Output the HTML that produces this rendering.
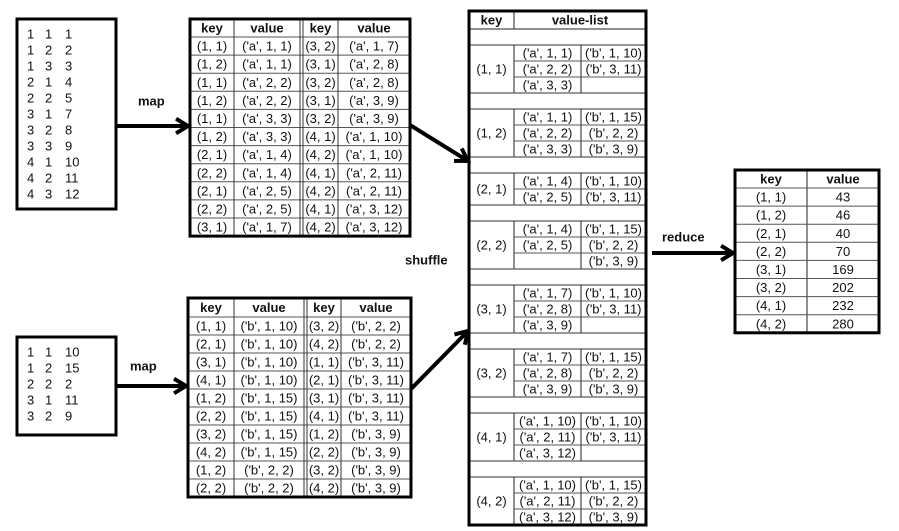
<!DOCTYPE html>
<html><head><meta charset="utf-8"><style>
html,body{margin:0;padding:0;background:#fff}
svg{display:block;font-family:"Liberation Sans",sans-serif}
text{font-size:13px;fill:#111}
.b{font-weight:bold}
</style></head><body>
<svg id="s" width="899" height="531" xmlns="http://www.w3.org/2000/svg"></svg>
<script>
const inputA=[["1","1","1"],["1","2","2"],["1","3","3"],["2","1","4"],["2","2","5"],["3","1","7"],["3","2","8"],["3","3","9"],["4","1","10"],["4","2","11"],["4","3","12"]];
const inputB=[["1","1","10"],["1","2","15"],["2","2","2"],["3","1","11"],["3","2","9"]];
const mapA=[["(1, 1)","('a', 1, 1)","(3, 2)","('a', 1, 7)"],["(1, 2)","('a', 1, 1)","(3, 1)","('a', 2, 8)"],["(1, 1)","('a', 2, 2)","(3, 2)","('a', 2, 8)"],["(1, 2)","('a', 2, 2)","(3, 1)","('a', 3, 9)"],["(1, 1)","('a', 3, 3)","(3, 2)","('a', 3, 9)"],["(1, 2)","('a', 3, 3)","(4, 1)","('a', 1, 10)"],["(2, 1)","('a', 1, 4)","(4, 2)","('a', 1, 10)"],["(2, 2)","('a', 1, 4)","(4, 1)","('a', 2, 11)"],["(2, 1)","('a', 2, 5)","(4, 2)","('a', 2, 11)"],["(2, 2)","('a', 2, 5)","(4, 1)","('a', 3, 12)"],["(3, 1)","('a', 1, 7)","(4, 2)","('a', 3, 12)"]];
const mapB=[["(1, 1)","('b', 1, 10)","(3, 2)","('b', 2, 2)"],["(2, 1)","('b', 1, 10)","(4, 2)","('b', 2, 2)"],["(3, 1)","('b', 1, 10)","(1, 1)","('b', 3, 11)"],["(4, 1)","('b', 1, 10)","(2, 1)","('b', 3, 11)"],["(1, 2)","('b', 1, 15)","(3, 1)","('b', 3, 11)"],["(2, 2)","('b', 1, 15)","(4, 1)","('b', 3, 11)"],["(3, 2)","('b', 1, 15)","(1, 2)","('b', 3, 9)"],["(4, 2)","('b', 1, 15)","(2, 2)","('b', 3, 9)"],["(1, 2)","('b', 2, 2)","(3, 2)","('b', 3, 9)"],["(2, 2)","('b', 2, 2)","(4, 2)","('b', 3, 9)"]];
const groups=[["(1, 1)",["('a', 1, 1)","('a', 2, 2)","('a', 3, 3)"],["('b', 1, 10)","('b', 3, 11)",""]],["(1, 2)",["('a', 1, 1)","('a', 2, 2)","('a', 3, 3)"],["('b', 1, 15)","('b', 2, 2)","('b', 3, 9)"]],["(2, 1)",["('a', 1, 4)","('a', 2, 5)"],["('b', 1, 10)","('b', 3, 11)"]],["(2, 2)",["('a', 1, 4)","('a', 2, 5)",""],["('b', 1, 15)","('b', 2, 2)","('b', 3, 9)"]],["(3, 1)",["('a', 1, 7)","('a', 2, 8)","('a', 3, 9)"],["('b', 1, 10)","('b', 3, 11)",""]],["(3, 2)",["('a', 1, 7)","('a', 2, 8)","('a', 3, 9)"],["('b', 1, 15)","('b', 2, 2)","('b', 3, 9)"]],["(4, 1)",["('a', 1, 10)","('a', 2, 11)","('a', 3, 12)"],["('b', 1, 10)","('b', 3, 11)",""]],["(4, 2)",["('a', 1, 10)","('a', 2, 11)","('a', 3, 12)"],["('b', 1, 15)","('b', 2, 2)","('b', 3, 9)"]]];
const reduceKeys=["(1, 1)","(1, 2)","(2, 1)","(2, 2)","(3, 1)","(3, 2)","(4, 1)","(4, 2)"];
const reduceVals=["43","46","40","70","169","202","232","280"];

const S=document.getElementById('s');const NS='http://www.w3.org/2000/svg';
function mk(tag,at,txt){const e=document.createElementNS(NS,tag);for(const k in at)e.setAttribute(k,at[k]);if(txt!==undefined)e.textContent=txt;S.appendChild(e);return e;}
function line(x1,y1,x2,y2,w,c){const e=mk('line',{x1,y1,x2,y2,stroke:c||'#222','stroke-width':w||1});return e;}
function box(x,y,w,h,name){const e=mk('rect',{x,y,width:w,height:h,fill:'none',stroke:'#000','stroke-width':3});}
function txt(x,y,t,cls,anchor){const e=mk('text',{x,y,'text-anchor':anchor||'middle','dominant-baseline':'central',class:cls||''},t);return e;}
function arrow(x1,y1,x2,y2,name){const g=mk('line',{x1,y1,x2,y2,stroke:'#000','stroke-width':4});
 const a=Math.atan2(y2-y1,x2-x1),L=14,sp=0.55;
 mk('polyline',{points:`${x2-L*Math.cos(a-sp)},${y2-L*Math.sin(a-sp)} ${x2},${y2} ${x2-L*Math.cos(a+sp)},${y2-L*Math.sin(a+sp)}`,fill:'none',stroke:'#000','stroke-width':4,'stroke-linejoin':'miter'});}
function label(x,y,t,name){const e=mk('text',{x,y,'dominant-baseline':'central',class:'b'},t);}

function inputBox(x,y,w,h,data,name){box(x,y,w,h,name);data.forEach((r,i)=>{[27,45,65].forEach((cx,j)=>txt(x+cx-17,y+15+i*16,r[j],'','start'));});}
inputBox(17,19,99,190,inputA,'input-a-box');
inputBox(17,337,99,98,inputB,'input-b-box');

function mapTable(x0,y0,cols,hh,rh,data,name){const n=data.length,y1=y0+hh+rh*n;
 for(let i=0;i<=n;i++){const y=y0+hh+i*rh;if(i<n)line(x0,y,cols[4],y,1,'#555');}
 [cols[1],cols[3]].forEach(c=>line(c,y0,c,y1,1,'#333'));
 line(cols[2],y0,cols[2],y1,1,'#333');line(cols[2]+3,y0,cols[2]+3,y1,1,'#333');
 const cx=[(cols[0]+cols[1])/2,(cols[1]+cols[2])/2,(cols[2]+3+cols[3])/2,(cols[3]+cols[4])/2];
 ['key','value','key','value'].forEach((h,j)=>txt(cx[j],y0+hh/2,h,'b'));
 data.forEach((r,i)=>r.forEach((v,j)=>txt(cx[j],y0+hh+rh*i+rh/2,v)));
 box(x0,y0,cols[4]-x0,y1-y0,name);}
mapTable(190,19,[190,234,300,338,410],18,18.1,mapA,'map-a-table');
mapTable(188,298,[188,234,304,341,411],19,18,mapB,'map-b-table');

// shuffle
(function(){const X0=469,XK=514,XA=581,X1=646,Y0=11,HH=18,SP=16,RH=16;
 txt((X0+XK)/2,Y0+HH/2,'key','b');txt((XK+X1)/2,Y0+HH/2,'value-list','b');
 line(XK,Y0,XK,Y0+HH,1);line(X0,Y0+HH,X1,Y0+HH,1);
 let y=Y0+HH;
 groups.forEach(g=>{y+=SP;line(X0,y,X1,y,1,'#333');const n=g[1].length,gy=y;
  txt((X0+XK)/2,gy+n*RH/2,g[0]);line(XK,gy,XK,gy+n*RH,1);
  for(let i=0;i<n;i++){txt((XK+XA)/2,gy+i*RH+RH/2,g[1][i]);txt((XA+X1)/2,gy+i*RH+RH/2,g[2][i]);
   line(XA,gy+i*RH,XA,gy+i*RH+RH,1);if(i>0)line(XK,gy+i*RH,X1,gy+i*RH,1,'#555');}
  y=gy+n*RH;line(X0,y,X1,y,1,'#333');});
 box(X0,Y0,X1-X0,525-Y0,'shuffle-table');})();

// reduce
(function(){const X0=735,XK=807,X1=879,Y0=170,HH=18,RH=18.1;
 txt((X0+XK)/2,Y0+HH/2,'key','b');txt((XK+X1)/2,Y0+HH/2,'value','b');
 line(XK,Y0,XK,Y0+HH+RH*8,1);
 reduceKeys.forEach((k,i)=>{const y=Y0+HH+i*RH;line(X0,y,X1,y,1,'#555');txt((X0+XK)/2,y+RH/2,k);txt((XK+X1)/2,y+RH/2,reduceVals[i]);});
 box(X0,Y0,X1-X0,HH+RH*8,'reduce-table');})();

arrow(116,126,188,126,'map-a-arrow');
arrow(116,386,186,386,'map-b-arrow');
arrow(410,125,468,161,'shuffle-a-arrow');
arrow(411,389,468,331,'shuffle-b-arrow');
arrow(652,253,733,253,'reduce-arrow');
label(138,101,'map','map-a-label');
label(130,366,'map','map-b-label');
label(405,260,'shuffle','shuffle-label');
label(662,237,'reduce','reduce-label');
</script>
</body></html>
